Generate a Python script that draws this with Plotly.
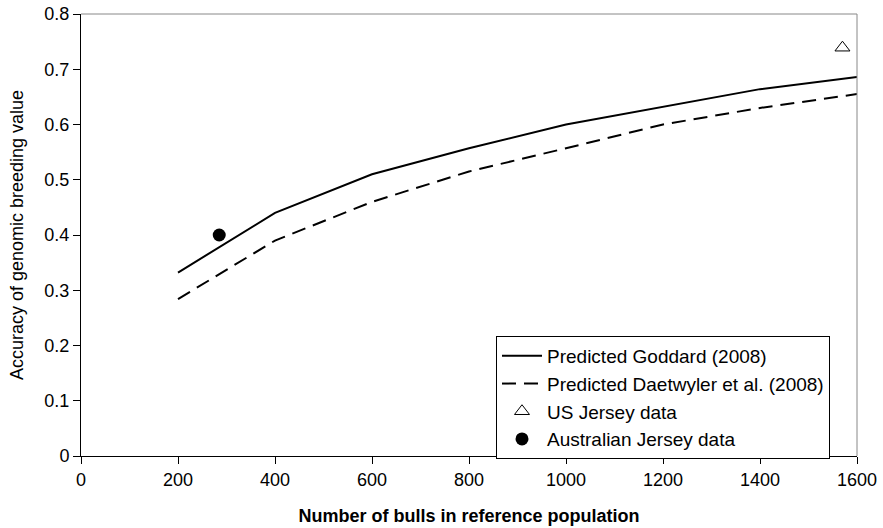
import plotly.graph_objects as go

bulls = [200, 400, 600, 800, 1000, 1200, 1400, 1600]
goddard = [0.332, 0.44, 0.51, 0.557, 0.60, 0.632, 0.664, 0.686]
daetwyler = [0.284, 0.39, 0.46, 0.515, 0.557, 0.60, 0.63, 0.655]
us_x = [1570]
us_y = [0.739]
au_x = [285]
au_y = [0.40]

font = "Liberation Sans, Arial, sans-serif"
fs = 18

fig = go.Figure()
fig.add_trace(go.Scatter(x=bulls, y=goddard, mode="lines", name="Predicted Goddard (2008)",
                         line=dict(color="black", width=2)))
fig.add_trace(go.Scatter(x=bulls, y=daetwyler, mode="lines", name="Predicted Daetwyler et al. (2008)",
                         line=dict(color="black", width=2, dash="14px,8px")))
fig.add_trace(go.Scatter(x=us_x, y=us_y, mode="markers", name="US Jersey data",
                         marker=dict(symbol="triangle-up-open", size=13, color="black",
                                     line=dict(color="black", width=1))))
fig.add_trace(go.Scatter(x=au_x, y=au_y, mode="markers", name="Australian Jersey data",
                         marker=dict(symbol="circle", size=13, color="black")))

fig.update_layout(
    width=883, height=528,
    margin=dict(l=81, r=26, t=14, b=72, autoexpand=False),
    paper_bgcolor="white", plot_bgcolor="white",
    font=dict(family=font, size=fs, color="black"),
    showlegend=True,
    legend=dict(x=0.9652, y=0.2715, xanchor="right", yanchor="top",
                bordercolor="black", borderwidth=1, bgcolor="white",
                font=dict(size=19, family=font), tracegroupgap=0,
                itemwidth=40),
    xaxis=dict(range=[0, 1600], tickvals=[0, 200, 400, 600, 800, 1000, 1200, 1400, 1600],
               showgrid=False, zeroline=False, showline=True, linecolor="black", linewidth=1,
               ticks="outside", ticklen=7, tickcolor="black", mirror=False, automargin=False,
               title=dict(text="<b>Number of bulls in reference population</b>",
                          font=dict(size=fs, family=font), standoff=20),
               tickfont=dict(size=fs)),
    yaxis=dict(range=[0, 0.8], tickvals=[0, 0.1, 0.2, 0.3, 0.4, 0.5, 0.6, 0.7, 0.8],
               ticktext=["0", "0.1", "0.2", "0.3", "0.4", "0.5", "0.6", "0.7", "0.8"],
               showgrid=False, zeroline=False, showline=True, linecolor="black", linewidth=1,
               ticks="outside", ticklen=7, tickcolor="black", automargin=False,
               title=dict(text="Accuracy of genomic breeding value",
                          font=dict(size=fs, family=font), standoff=16),
               tickfont=dict(size=fs)),
)

# gray top and right frame lines of the plot area
fig.add_shape(type="line", xref="paper", yref="paper", x0=0, x1=1, y0=1, y1=1,
              line=dict(color="#888888", width=1))
fig.add_shape(type="line", xref="paper", yref="paper", x0=1, x1=1, y0=0, y1=1,
              line=dict(color="#888888", width=1))

fig.write_html("out.html")
